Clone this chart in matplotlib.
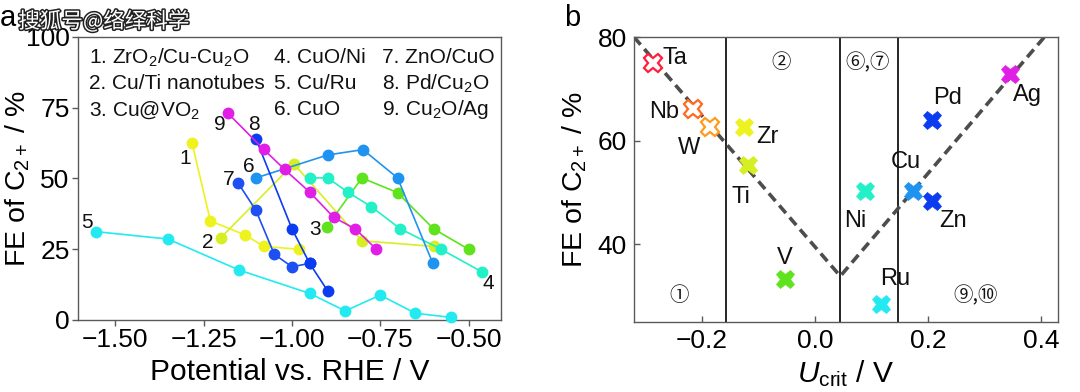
import matplotlib
matplotlib.use("Agg")
import matplotlib.pyplot as plt
import matplotlib.patheffects as pe
from matplotlib.ticker import FuncFormatter

plt.rcParams['font.family'] = ['Liberation Sans', 'DejaVu Sans']
plt.rcParams['mathtext.fontset'] = 'custom'
plt.rcParams['mathtext.rm'] = 'Liberation Sans'
plt.rcParams['mathtext.it'] = 'Liberation Sans:italic'
plt.rcParams['mathtext.default'] = 'regular'

# ---------------- panel a data ----------------
legend_labels = ["1. ZrO$_2$/Cu-Cu$_2$O", "2. Cu/Ti nanotubes", "3. Cu@VO$_2$",
                 "4. CuO/Ni", "5. Cu/Ru", "6. CuO",
                 "7. ZnO/CuO", "8. Pd/Cu$_2$O", "9. Cu$_2$O/Ag"]

s1_x = [-1.283, -1.231, -1.132, -1.080, -0.981]
s1_y = [62.5, 35.0, 30.0, 26.0, 25.0]
s2_x = [-1.202, -0.995, -0.802, -0.599]
s2_y = [29.0, 55.2, 28.0, 26.0]
s3_x = [-0.901, -0.802, -0.701, -0.599, -0.500]
s3_y = [33.0, 50.2, 45.0, 32.2, 25.0]
s4_x = [-0.948, -0.899, -0.842, -0.775, -0.693, -0.578, -0.462]
s4_y = [50.2, 50.2, 45.2, 40.0, 32.2, 25.0, 17.0]
s5_x = [-1.554, -1.351, -1.151, -0.950, -0.849, -0.750, -0.651, -0.549]
s5_y = [31.2, 28.6, 17.7, 9.4, 3.2, 8.8, 2.4, 0.9]
s6_x = [-1.102, -0.899, -0.799, -0.701, -0.601]
s6_y = [50.2, 58.3, 60.2, 50.2, 20.0]
s7_x = [-1.153, -1.102, -1.050, -1.000, -0.950]
s7_y = [48.5, 38.7, 23.2, 18.8, 20.0]
s8_x = [-1.102, -1.000, -0.950, -0.899]
s8_y = [64.0, 32.2, 20.0, 10.3]
s9_x = [-1.181, -1.080, -1.021, -0.950, -0.882, -0.821, -0.761]
s9_y = [73.0, 60.3, 53.2, 45.2, 36.3, 32.2, 25.0]

series_x = [s1_x, s2_x, s3_x, s4_x, s5_x, s6_x, s7_x, s8_x, s9_x]
series_y = [s1_y, s2_y, s3_y, s4_y, s5_y, s6_y, s7_y, s8_y, s9_y]
series_colors = ['#eef21e', '#d6ef22', '#5ee31c', '#22f0c6', '#22eaf0',
                 '#1e94f0', '#1d4ff2', '#0b3cf0', '#e01ee6']
num_labels = ['1', '2', '3', '4', '5', '6', '7', '8', '9']
num_x = [-1.302, -1.239, -0.934, -0.443, -1.580, -1.123, -1.179, -1.108, -1.205]
num_y = [57.0, 27.5, 32.0, 13.0, 34.5, 54.4, 49.8, 69.0, 69.0]

a_xticks = [-1.50, -1.25, -1.00, -0.75, -0.50]
a_yticks = [0, 25, 50, 75, 100]

# ---------------- panel b data ----------------
elements = ['Ta', 'Nb', 'W', 'Zr', 'Ti', 'V', 'Ni', 'Ru', 'Cu', 'Zn', 'Pd', 'Ag']
ucrit = [-0.287, -0.216, -0.186, -0.126, -0.119, -0.053, 0.089, 0.117, 0.173, 0.208, 0.208, 0.346]
fe_c2 = [75.0, 66.1, 62.7, 62.7, 55.2, 33.2, 50.2, 28.5, 50.2, 48.4, 64.0, 72.9]
elem_colors = ['#ff1e3c', '#ff6a1e', '#ff9a1e', '#eef21e', '#d6ef22', '#5ee31c',
               '#22f0c6', '#22eaf0', '#1e94f0', '#0b3cf0', '#0b3cf0', '#e01ee6']
elem_open = [True, True, True, False, False, False, False, False, False, False, False, False]
lab_x = [-0.270, -0.266, -0.222, -0.084, -0.131, -0.053, 0.072, 0.142, 0.160, 0.245, 0.234, 0.376]
lab_y = [76.0, 65.6, 58.5, 60.7, 49.1, 37.4, 44.5, 33.2, 55.9, 44.5, 68.2, 68.7]
lab_ha = ['left', 'center', 'center', 'center', 'center', 'center', 'center',
          'center', 'center', 'center', 'center', 'center']

guide_x = [-0.320, 0.045, 0.406]
guide_y = [80.0, 33.8, 80.0]
region_bounds = [-0.157, 0.045, 0.147]
region_labels = ['①', '②', '⑥,⑦', '⑨,⑩']
region_x = [-0.240, -0.060, 0.093, 0.285]
region_y = [30.0, 75.0, 75.0, 30.0]

b_xticks = [-0.2, 0.0, 0.2, 0.4]
b_yticks = [40, 60, 80]

# ---------------- figure ----------------
fig = plt.figure(figsize=(10.8, 3.92), dpi=100)
axa = fig.add_axes([0.0722, 0.1837, 0.3917, 0.7220])
axb = fig.add_axes([0.5870, 0.1793, 0.3926, 0.7263])

spine_col = '#5a5a5a'
for ax in (axa, axb):
    for s in ax.spines.values():
        s.set_color(spine_col)
        s.set_linewidth(1.0)

# panel a
for xs, ys, c in zip(series_x, series_y, series_colors):
    axa.plot(xs, ys, '-o', color=c, lw=1.2, ms=7.5, mec=c, clip_on=False, zorder=3)
for t, x, y in zip(num_labels, num_x, num_y):
    axa.text(x, y, t, fontsize=15, ha='center', va='center', color='#111111')

col_x = [0.026, 0.463, 0.719]
row_y = [0.926, 0.834, 0.742]
for i, lab in enumerate(legend_labels):
    axa.text(col_x[i // 3], row_y[i % 3], lab, transform=axa.transAxes,
             fontsize=15, ha='left', va='center', color='#111111')

axa.set_xlim(-1.606, -0.408)
axa.set_ylim(0, 100)
axa.set_xticks(a_xticks)
axa.set_yticks(a_yticks)
fmt_a = FuncFormatter(lambda v, p: ('%.2f' % v).replace('-', '\u2212'))
axa.xaxis.set_major_formatter(fmt_a)
axa.tick_params(direction='out', length=4, width=1, color=spine_col,
                labelsize=19, pad=2)
axa.set_xlabel('Potential vs. RHE / V', fontsize=21.5, labelpad=4)
axa.set_ylabel('FE of C$_{2+}$ / %', fontsize=20.5)
axa.yaxis.set_label_coords(-0.108, 0.5)

# panel b
for xb in region_bounds:
    axb.axvline(xb, color='black', lw=1.2, zorder=1)
axb.plot(guide_x, guide_y, ls=(0, (2.8, 1.6)), color='#4d4d4d', lw=2.6, zorder=2)
for x, y, c, op in zip(ucrit, fe_c2, elem_colors, elem_open):
    if op:
        axb.plot([x], [y], 'X', ms=13.5, mfc='white', mec=c, mew=1.6, zorder=4)
    else:
        axb.plot([x], [y], 'X', ms=13.5, mfc=c, mec=c, mew=0.5, zorder=4)
for t, x, y, ha in zip(elements, lab_x, lab_y, lab_ha):
    axb.text(x, y, t, fontsize=17, ha=ha, va='center', color='#111111')
for t, x, y in zip(region_labels, region_x, region_y):
    axb.text(x, y, t, fontsize=14, ha='center', va='center', color='#111111',
             family=['Noto Sans CJK SC', 'DejaVu Sans'])

axb.set_xlim(-0.32, 0.43)
axb.set_ylim(25, 80)
axb.set_xticks(b_xticks)
axb.set_yticks(b_yticks)
fmt_b = FuncFormatter(lambda v, p: ('%.1f' % v).replace('-', '\u2212'))
axb.xaxis.set_major_formatter(fmt_b)
axb.tick_params(direction='in', length=4, width=1, color=spine_col,
                labelsize=19, pad=5)
axb.set_xlabel('$\\mathit{U}_{\\rm crit}$ / V', fontsize=21.5, labelpad=4)
axb.set_ylabel('FE of C$_{2+}$ / %', fontsize=20.5, labelpad=6)

# panel letters
fig.text(0.0, 0.955, 'a', fontsize=21, ha='left', va='center')
fig.text(0.522, 0.955, 'b', fontsize=21, ha='left', va='center')

# watermark
fig.text(0.017, 0.944, '搜狐号@络绎科学', fontsize=15.5, ha='left', va='center',
         color='white', family=['Noto Sans CJK SC', 'DejaVu Sans'],
         path_effects=[pe.withStroke(linewidth=2.2, foreground='#222222')])

fig.savefig('out.png', dpi=100)
